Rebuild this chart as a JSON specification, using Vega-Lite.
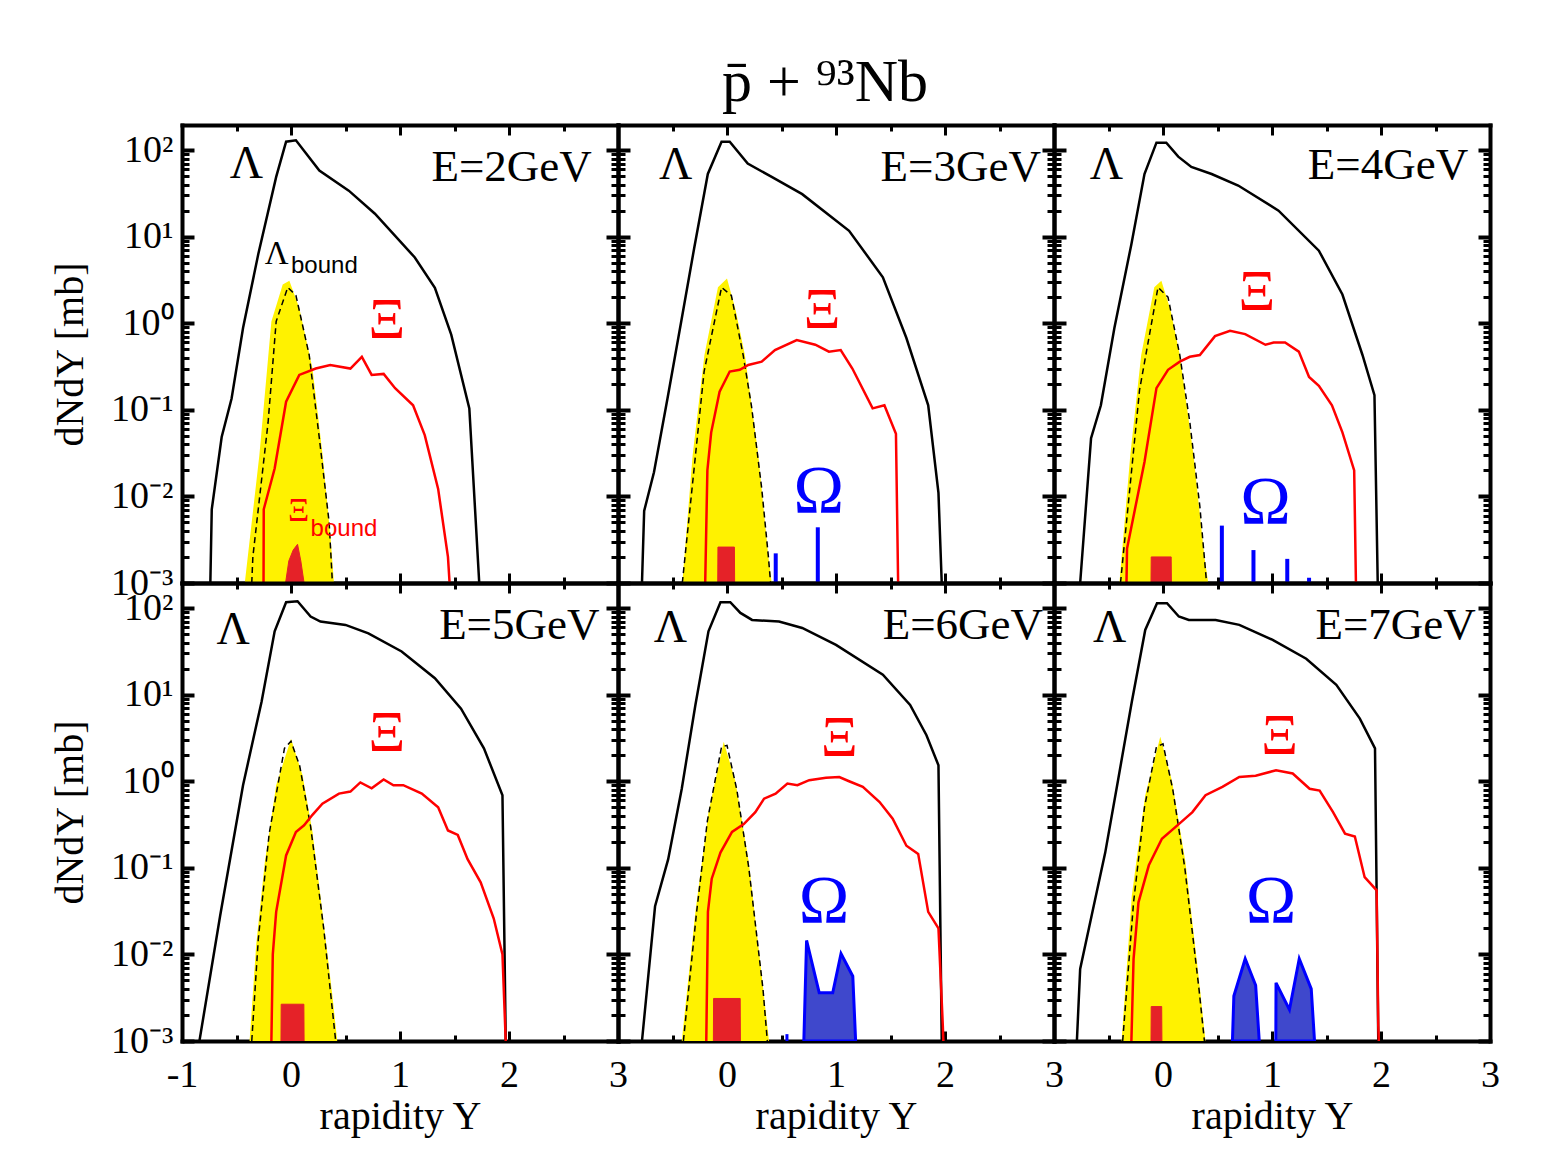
{
"$schema":"https://vega.github.io/schema/vega-lite/v6.json",
"background":"white",
"padding":{"left":50,"top":52,"right":60,"bottom":20},
"title":{"text":"p̄ + ⁹³Nb","fontSize":60,"font":"Liberation Serif","fontWeight":"normal","anchor":"middle","color":"#000","offset":10,"dx":50},
"config":{"view":{"stroke":null},"axis":{"grid":false,"domainColor":"#000","tickColor":"#000","labelColor":"#000","titleColor":"#000","labelFont":"Liberation Serif","titleFont":"Liberation Serif","labelFontSize":38,"titleFontSize":40,"titleFontWeight":"normal","labelFlush":false,"labelOverlap":false,"zindex":1,"domainWidth":4,"domainCap":"square"}},
"datasets":{
"d":[
{"E":2,"s":"L","x":-0.74,"y":0.001},{"E":2,"s":"L","x":-0.727,"y":0.0071},{"E":2,"s":"L","x":-0.636,"y":0.0486},{"E":2,"s":"L","x":-0.545,"y":0.135},{"E":2,"s":"L","x":-0.44,"y":0.88},{"E":2,"s":"L","x":-0.3,"y":6.3},{"E":2,"s":"L","x":-0.136,"y":49},{"E":2,"s":"L","x":-0.045,"y":125},{"E":2,"s":"L","x":0.045,"y":130},{"E":2,"s":"L","x":0.26,"y":58},{"E":2,"s":"L","x":0.53,"y":34},{"E":2,"s":"L","x":0.77,"y":18.4},{"E":2,"s":"L","x":1.136,"y":5.75},{"E":2,"s":"L","x":1.32,"y":2.57},{"E":2,"s":"L","x":1.47,"y":0.74},{"E":2,"s":"L","x":1.636,"y":0.104},{"E":2,"s":"L","x":1.727,"y":0.001},
{"E":2,"s":"X","x":-0.252,"y":0.001},{"E":2,"s":"X","x":-0.25,"y":0.0071},{"E":2,"s":"X","x":-0.15,"y":0.021},{"E":2,"s":"X","x":-0.045,"y":0.124},{"E":2,"s":"X","x":0.076,"y":0.253},{"E":2,"s":"X","x":0.227,"y":0.3},{"E":2,"s":"X","x":0.36,"y":0.33},{"E":2,"s":"X","x":0.545,"y":0.3},{"E":2,"s":"X","x":0.65,"y":0.41},{"E":2,"s":"X","x":0.74,"y":0.253},{"E":2,"s":"X","x":0.85,"y":0.26},{"E":2,"s":"X","x":0.955,"y":0.178},{"E":2,"s":"X","x":1.12,"y":0.113},{"E":2,"s":"X","x":1.227,"y":0.051},{"E":2,"s":"X","x":1.35,"y":0.0122},{"E":2,"s":"X","x":1.44,"y":0.002},{"E":2,"s":"X","x":1.455,"y":0.001},
{"E":2,"s":"Lb","x":-0.424,"y":0.001},{"E":2,"s":"Lb","x":-0.29,"y":0.03},{"E":2,"s":"Lb","x":-0.18,"y":1.05},{"E":2,"s":"Lb","x":-0.076,"y":2.8},{"E":2,"s":"Lb","x":-0.015,"y":3.1},{"E":2,"s":"Lb","x":0.076,"y":1.5},{"E":2,"s":"Lb","x":0.197,"y":0.3},{"E":2,"s":"Lb","x":0.29,"y":0.03},{"E":2,"s":"Lb","x":0.364,"y":0.0032},{"E":2,"s":"Lb","x":0.394,"y":0.001},
{"E":2,"s":"Lbd","x":-0.36,"y":0.001},{"E":2,"s":"Lbd","x":-0.35,"y":0.002},{"E":2,"s":"Lbd","x":-0.21,"y":0.072},{"E":2,"s":"Lbd","x":-0.136,"y":1.05},{"E":2,"s":"Lbd","x":-0.03,"y":2.6},{"E":2,"s":"Lbd","x":0.045,"y":2.1},{"E":2,"s":"Lbd","x":0.167,"y":0.43},{"E":2,"s":"Lbd","x":0.26,"y":0.047},{"E":2,"s":"Lbd","x":0.35,"y":0.005},{"E":2,"s":"Lbd","x":0.38,"y":0.001},
{"E":2,"s":"Xb","x":-0.05,"y":0.001},{"E":2,"s":"Xb","x":-0.02,"y":0.0018},{"E":2,"s":"Xb","x":0.02,"y":0.0024},{"E":2,"s":"Xb","x":0.06,"y":0.0028},{"E":2,"s":"Xb","x":0.09,"y":0.0018},{"E":2,"s":"Xb","x":0.12,"y":0.001},

{"E":3,"s":"L","x":-0.78,"y":0.001},{"E":3,"s":"L","x":-0.76,"y":0.0068},{"E":3,"s":"L","x":-0.67,"y":0.019},{"E":3,"s":"L","x":-0.546,"y":0.135},{"E":3,"s":"L","x":-0.42,"y":1.05},{"E":3,"s":"L","x":-0.3,"y":7.5},{"E":3,"s":"L","x":-0.176,"y":53},{"E":3,"s":"L","x":-0.05,"y":125},{"E":3,"s":"L","x":0.025,"y":125},{"E":3,"s":"L","x":0.19,"y":70},{"E":3,"s":"L","x":0.41,"y":49},{"E":3,"s":"L","x":0.69,"y":31},{"E":3,"s":"L","x":1.12,"y":11.7},{"E":3,"s":"L","x":1.43,"y":3.4},{"E":3,"s":"L","x":1.645,"y":0.68},{"E":3,"s":"L","x":1.846,"y":0.113},{"E":3,"s":"L","x":1.94,"y":0.011},{"E":3,"s":"L","x":1.97,"y":0.001},
{"E":3,"s":"X","x":-0.2,"y":0.001},{"E":3,"s":"X","x":-0.18,"y":0.02},{"E":3,"s":"X","x":-0.145,"y":0.055},{"E":3,"s":"X","x":-0.068,"y":0.162},{"E":3,"s":"X","x":0.025,"y":0.277},{"E":3,"s":"X","x":0.117,"y":0.29},{"E":3,"s":"X","x":0.195,"y":0.33},{"E":3,"s":"X","x":0.318,"y":0.36},{"E":3,"s":"X","x":0.44,"y":0.49},{"E":3,"s":"X","x":0.64,"y":0.64},{"E":3,"s":"X","x":0.81,"y":0.565},{"E":3,"s":"X","x":0.935,"y":0.47},{"E":3,"s":"X","x":1.043,"y":0.49},{"E":3,"s":"X","x":1.15,"y":0.3},{"E":3,"s":"X","x":1.336,"y":0.104},{"E":3,"s":"X","x":1.444,"y":0.113},{"E":3,"s":"X","x":1.55,"y":0.053},{"E":3,"s":"X","x":1.57,"y":0.001},
{"E":3,"s":"Lb","x":-0.41,"y":0.001},{"E":3,"s":"Lb","x":-0.315,"y":0.03},{"E":3,"s":"Lb","x":-0.207,"y":0.43},{"E":3,"s":"Lb","x":-0.083,"y":2.6},{"E":3,"s":"Lb","x":0.0,"y":3.3},{"E":3,"s":"Lb","x":0.08,"y":1.4},{"E":3,"s":"Lb","x":0.164,"y":0.43},{"E":3,"s":"Lb","x":0.287,"y":0.03},{"E":3,"s":"Lb","x":0.38,"y":0.002},{"E":3,"s":"Lb","x":0.41,"y":0.001},
{"E":3,"s":"Lbd","x":-0.41,"y":0.001},{"E":3,"s":"Lbd","x":-0.21,"y":0.277},{"E":3,"s":"Lbd","x":-0.05,"y":2.6},{"E":3,"s":"Lbd","x":0.04,"y":2.1},{"E":3,"s":"Lbd","x":0.148,"y":0.43},{"E":3,"s":"Lbd","x":0.225,"y":0.11},{"E":3,"s":"Lbd","x":0.318,"y":0.0125},{"E":3,"s":"Lbd","x":0.38,"y":0.002},{"E":3,"s":"Lbd","x":0.4,"y":0.001},
{"E":3,"s":"Xb","x":-0.085,"y":0.001},{"E":3,"s":"Xb","x":-0.083,"y":0.0026},{"E":3,"s":"Xb","x":0.068,"y":0.0026},{"E":3,"s":"Xb","x":0.07,"y":0.001},
{"E":3,"s":"Or","x":0.447,"y":0.0022},{"E":3,"s":"Or","x":0.833,"y":0.0044},

{"E":4,"s":"L","x":-0.76,"y":0.001},{"E":4,"s":"L","x":-0.66,"y":0.047},{"E":4,"s":"L","x":-0.57,"y":0.113},{"E":4,"s":"L","x":-0.446,"y":0.88},{"E":4,"s":"L","x":-0.29,"y":8.2},{"E":4,"s":"L","x":-0.17,"y":53},{"E":4,"s":"L","x":-0.06,"y":122},{"E":4,"s":"L","x":0.03,"y":122},{"E":4,"s":"L","x":0.14,"y":84},{"E":4,"s":"L","x":0.26,"y":64},{"E":4,"s":"L","x":0.446,"y":53},{"E":4,"s":"L","x":0.69,"y":39},{"E":4,"s":"L","x":1.06,"y":20},{"E":4,"s":"L","x":1.43,"y":6.9},{"E":4,"s":"L","x":1.646,"y":2.15},{"E":4,"s":"L","x":1.83,"y":0.43},{"E":4,"s":"L","x":1.94,"y":0.148},{"E":4,"s":"L","x":1.97,"y":0.001},
{"E":4,"s":"X","x":-0.335,"y":0.001},{"E":4,"s":"X","x":-0.33,"y":0.0025},{"E":4,"s":"X","x":-0.17,"y":0.025},{"E":4,"s":"X","x":-0.06,"y":0.178},{"E":4,"s":"X","x":0.046,"y":0.29},{"E":4,"s":"X","x":0.154,"y":0.36},{"E":4,"s":"X","x":0.246,"y":0.41},{"E":4,"s":"X","x":0.338,"y":0.43},{"E":4,"s":"X","x":0.477,"y":0.71},{"E":4,"s":"X","x":0.615,"y":0.82},{"E":4,"s":"X","x":0.754,"y":0.75},{"E":4,"s":"X","x":0.94,"y":0.565},{"E":4,"s":"X","x":1.015,"y":0.6},{"E":4,"s":"X","x":1.12,"y":0.6},{"E":4,"s":"X","x":1.246,"y":0.47},{"E":4,"s":"X","x":1.34,"y":0.24},{"E":4,"s":"X","x":1.43,"y":0.19},{"E":4,"s":"X","x":1.55,"y":0.113},{"E":4,"s":"X","x":1.646,"y":0.055},{"E":4,"s":"X","x":1.754,"y":0.02},{"E":4,"s":"X","x":1.77,"y":0.001},
{"E":4,"s":"Lb","x":-0.4,"y":0.001},{"E":4,"s":"Lb","x":-0.3,"y":0.03},{"E":4,"s":"Lb","x":-0.2,"y":0.43},{"E":4,"s":"Lb","x":-0.08,"y":2.6},{"E":4,"s":"Lb","x":-0.015,"y":3.1},{"E":4,"s":"Lb","x":0.07,"y":1.4},{"E":4,"s":"Lb","x":0.154,"y":0.43},{"E":4,"s":"Lb","x":0.28,"y":0.03},{"E":4,"s":"Lb","x":0.38,"y":0.002},{"E":4,"s":"Lb","x":0.415,"y":0.001},
{"E":4,"s":"Lbd","x":-0.39,"y":0.001},{"E":4,"s":"Lbd","x":-0.215,"y":0.17},{"E":4,"s":"Lbd","x":-0.046,"y":2.6},{"E":4,"s":"Lbd","x":0.046,"y":2.0},{"E":4,"s":"Lbd","x":0.154,"y":0.43},{"E":4,"s":"Lbd","x":0.246,"y":0.072},{"E":4,"s":"Lbd","x":0.338,"y":0.0077},{"E":4,"s":"Lbd","x":0.4,"y":0.001},
{"E":4,"s":"Xb","x":-0.11,"y":0.001},{"E":4,"s":"Xb","x":-0.108,"y":0.002},{"E":4,"s":"Xb","x":0.075,"y":0.002},{"E":4,"s":"Xb","x":0.077,"y":0.001},
{"E":4,"s":"Or","x":0.54,"y":0.0046},{"E":4,"s":"Or","x":0.83,"y":0.0024},{"E":4,"s":"Or","x":1.14,"y":0.0019},{"E":4,"s":"Or","x":1.34,"y":0.00115},

{"E":5,"s":"L","x":-0.84,"y":0.001},{"E":5,"s":"L","x":-0.65,"y":0.028},{"E":5,"s":"L","x":-0.44,"y":0.9},{"E":5,"s":"L","x":-0.27,"y":8.3},{"E":5,"s":"L","x":-0.15,"y":54},{"E":5,"s":"L","x":-0.045,"y":117},{"E":5,"s":"L","x":0.06,"y":120},{"E":5,"s":"L","x":0.18,"y":80},{"E":5,"s":"L","x":0.27,"y":70},{"E":5,"s":"L","x":0.5,"y":64},{"E":5,"s":"L","x":0.71,"y":51},{"E":5,"s":"L","x":1.015,"y":31.6},{"E":5,"s":"L","x":1.32,"y":15.5},{"E":5,"s":"L","x":1.56,"y":6.9},{"E":5,"s":"L","x":1.77,"y":2.4},{"E":5,"s":"L","x":1.94,"y":0.69},{"E":5,"s":"L","x":1.97,"y":0.001},
{"E":5,"s":"X","x":-0.18,"y":0.001},{"E":5,"s":"X","x":-0.167,"y":0.01},{"E":5,"s":"X","x":-0.136,"y":0.031},{"E":5,"s":"X","x":-0.045,"y":0.139},{"E":5,"s":"X","x":0.045,"y":0.26},{"E":5,"s":"X","x":0.12,"y":0.31},{"E":5,"s":"X","x":0.197,"y":0.41},{"E":5,"s":"X","x":0.288,"y":0.55},{"E":5,"s":"X","x":0.44,"y":0.72},{"E":5,"s":"X","x":0.545,"y":0.76},{"E":5,"s":"X","x":0.636,"y":0.97},{"E":5,"s":"X","x":0.74,"y":0.83},{"E":5,"s":"X","x":0.85,"y":1.05},{"E":5,"s":"X","x":0.94,"y":0.9},{"E":5,"s":"X","x":1.03,"y":0.9},{"E":5,"s":"X","x":1.2,"y":0.72},{"E":5,"s":"X","x":1.35,"y":0.5},{"E":5,"s":"X","x":1.44,"y":0.27},{"E":5,"s":"X","x":1.53,"y":0.24},{"E":5,"s":"X","x":1.62,"y":0.126},{"E":5,"s":"X","x":1.74,"y":0.068},{"E":5,"s":"X","x":1.86,"y":0.026},{"E":5,"s":"X","x":1.94,"y":0.01},{"E":5,"s":"X","x":1.97,"y":0.001},
{"E":5,"s":"Lb","x":-0.38,"y":0.001},{"E":5,"s":"Lb","x":-0.32,"y":0.0126},{"E":5,"s":"Lb","x":-0.24,"y":0.117},{"E":5,"s":"Lb","x":-0.136,"y":0.9},{"E":5,"s":"Lb","x":0.0,"y":3.1},{"E":5,"s":"Lb","x":0.106,"y":1.17},{"E":5,"s":"Lb","x":0.197,"y":0.26},{"E":5,"s":"Lb","x":0.288,"y":0.031},{"E":5,"s":"Lb","x":0.38,"y":0.0033},{"E":5,"s":"Lb","x":0.424,"y":0.001},
{"E":5,"s":"Lbd","x":-0.36,"y":0.001},{"E":5,"s":"Lbd","x":-0.3,"y":0.015},{"E":5,"s":"Lbd","x":-0.2,"y":0.25},{"E":5,"s":"Lbd","x":-0.06,"y":2.4},{"E":5,"s":"Lbd","x":0.0,"y":2.9},{"E":5,"s":"Lbd","x":0.08,"y":1.5},{"E":5,"s":"Lbd","x":0.18,"y":0.3},{"E":5,"s":"Lbd","x":0.3,"y":0.02},{"E":5,"s":"Lbd","x":0.41,"y":0.001},
{"E":5,"s":"Xb","x":-0.092,"y":0.001},{"E":5,"s":"Xb","x":-0.09,"y":0.00266},{"E":5,"s":"Xb","x":0.118,"y":0.00266},{"E":5,"s":"Xb","x":0.12,"y":0.001},

{"E":6,"s":"L","x":-0.78,"y":0.001},{"E":6,"s":"L","x":-0.66,"y":0.036},{"E":6,"s":"L","x":-0.54,"y":0.125},{"E":6,"s":"L","x":-0.415,"y":0.82},{"E":6,"s":"L","x":-0.29,"y":7.6},{"E":6,"s":"L","x":-0.17,"y":54},{"E":6,"s":"L","x":-0.06,"y":117},{"E":6,"s":"L","x":0.03,"y":117},{"E":6,"s":"L","x":0.123,"y":88},{"E":6,"s":"L","x":0.23,"y":73},{"E":6,"s":"L","x":0.477,"y":70},{"E":6,"s":"L","x":0.69,"y":59},{"E":6,"s":"L","x":1.0,"y":37.6},{"E":6,"s":"L","x":1.43,"y":17},{"E":6,"s":"L","x":1.68,"y":7.6},{"E":6,"s":"L","x":1.83,"y":3.4},{"E":6,"s":"L","x":1.94,"y":1.53},{"E":6,"s":"L","x":1.97,"y":0.001},
{"E":6,"s":"X","x":-0.19,"y":0.001},{"E":6,"s":"X","x":-0.175,"y":0.031},{"E":6,"s":"X","x":-0.14,"y":0.075},{"E":6,"s":"X","x":-0.06,"y":0.15},{"E":6,"s":"X","x":0.046,"y":0.26},{"E":6,"s":"X","x":0.154,"y":0.32},{"E":6,"s":"X","x":0.26,"y":0.44},{"E":6,"s":"X","x":0.34,"y":0.63},{"E":6,"s":"X","x":0.446,"y":0.72},{"E":6,"s":"X","x":0.554,"y":0.94},{"E":6,"s":"X","x":0.646,"y":0.9},{"E":6,"s":"X","x":0.754,"y":1.03},{"E":6,"s":"X","x":0.908,"y":1.1},{"E":6,"s":"X","x":1.03,"y":1.12},{"E":6,"s":"X","x":1.12,"y":1.0},{"E":6,"s":"X","x":1.246,"y":0.86},{"E":6,"s":"X","x":1.4,"y":0.575},{"E":6,"s":"X","x":1.52,"y":0.37},{"E":6,"s":"X","x":1.646,"y":0.18},{"E":6,"s":"X","x":1.754,"y":0.145},{"E":6,"s":"X","x":1.846,"y":0.031},{"E":6,"s":"X","x":1.94,"y":0.02},{"E":6,"s":"X","x":1.98,"y":0.0015},{"E":6,"s":"X","x":1.985,"y":0.001},
{"E":6,"s":"Lb","x":-0.415,"y":0.001},{"E":6,"s":"Lb","x":-0.29,"y":0.031},{"E":6,"s":"Lb","x":-0.17,"y":0.44},{"E":6,"s":"Lb","x":-0.03,"y":2.86},{"E":6,"s":"Lb","x":0.077,"y":1.0},{"E":6,"s":"Lb","x":0.2,"y":0.116},{"E":6,"s":"Lb","x":0.323,"y":0.0051},{"E":6,"s":"Lb","x":0.385,"y":0.001},
{"E":6,"s":"Lbd","x":-0.4,"y":0.001},{"E":6,"s":"Lbd","x":-0.28,"y":0.03},{"E":6,"s":"Lbd","x":-0.18,"y":0.35},{"E":6,"s":"Lbd","x":-0.05,"y":2.5},{"E":6,"s":"Lbd","x":0.0,"y":2.6},{"E":6,"s":"Lbd","x":0.09,"y":0.8},{"E":6,"s":"Lbd","x":0.2,"y":0.1},{"E":6,"s":"Lbd","x":0.33,"y":0.004},{"E":6,"s":"Lbd","x":0.37,"y":0.001},
{"E":6,"s":"Xb","x":-0.125,"y":0.001},{"E":6,"s":"Xb","x":-0.123,"y":0.0031},{"E":6,"s":"Xb","x":0.121,"y":0.0031},{"E":6,"s":"Xb","x":0.123,"y":0.001},
{"E":6,"s":"O1","x":0.705,"y":0.001},{"E":6,"s":"O1","x":0.73,"y":0.0145},{"E":6,"s":"O1","x":0.846,"y":0.0036},{"E":6,"s":"O1","x":0.97,"y":0.0036},{"E":6,"s":"O1","x":1.046,"y":0.0102},{"E":6,"s":"O1","x":1.154,"y":0.0056},{"E":6,"s":"O1","x":1.18,"y":0.001},
{"E":6,"s":"Or","x":0.55,"y":0.0012},

{"E":7,"s":"L","x":-0.79,"y":0.001},{"E":7,"s":"L","x":-0.76,"y":0.0068},{"E":7,"s":"L","x":-0.655,"y":0.028},{"E":7,"s":"L","x":-0.53,"y":0.15},{"E":7,"s":"L","x":-0.41,"y":1.07},{"E":7,"s":"L","x":-0.286,"y":8.3},{"E":7,"s":"L","x":-0.163,"y":56},{"E":7,"s":"L","x":-0.055,"y":114},{"E":7,"s":"L","x":0.037,"y":114},{"E":7,"s":"L","x":0.145,"y":80},{"E":7,"s":"L","x":0.237,"y":73},{"E":7,"s":"L","x":0.483,"y":73},{"E":7,"s":"L","x":0.7,"y":64},{"E":7,"s":"L","x":1.006,"y":43},{"E":7,"s":"L","x":1.314,"y":26},{"E":7,"s":"L","x":1.59,"y":13},{"E":7,"s":"L","x":1.806,"y":5.3},{"E":7,"s":"L","x":1.945,"y":2.4},{"E":7,"s":"L","x":1.975,"y":0.001},
{"E":7,"s":"X","x":-0.29,"y":0.001},{"E":7,"s":"X","x":-0.27,"y":0.0089},{"E":7,"s":"X","x":-0.225,"y":0.04},{"E":7,"s":"X","x":-0.13,"y":0.107},{"E":7,"s":"X","x":-0.01,"y":0.217},{"E":7,"s":"X","x":0.145,"y":0.32},{"E":7,"s":"X","x":0.27,"y":0.44},{"E":7,"s":"X","x":0.39,"y":0.69},{"E":7,"s":"X","x":0.545,"y":0.86},{"E":7,"s":"X","x":0.7,"y":1.12},{"E":7,"s":"X","x":0.85,"y":1.16},{"E":7,"s":"X","x":1.037,"y":1.34},{"E":7,"s":"X","x":1.19,"y":1.23},{"E":7,"s":"X","x":1.345,"y":0.82},{"E":7,"s":"X","x":1.437,"y":0.78},{"E":7,"s":"X","x":1.56,"y":0.44},{"E":7,"s":"X","x":1.67,"y":0.248},{"E":7,"s":"X","x":1.76,"y":0.23},{"E":7,"s":"X","x":1.85,"y":0.078},{"E":7,"s":"X","x":1.96,"y":0.055},{"E":7,"s":"X","x":1.975,"y":0.0015},{"E":7,"s":"X","x":1.98,"y":0.001},
{"E":7,"s":"Lb","x":-0.38,"y":0.001},{"E":7,"s":"Lb","x":-0.286,"y":0.048},{"E":7,"s":"Lb","x":-0.163,"y":0.69},{"E":7,"s":"Lb","x":-0.025,"y":3.26},{"E":7,"s":"Lb","x":0.083,"y":1.0},{"E":7,"s":"Lb","x":0.206,"y":0.116},{"E":7,"s":"Lb","x":0.33,"y":0.0051},{"E":7,"s":"Lb","x":0.39,"y":0.001},
{"E":7,"s":"Lbd","x":-0.37,"y":0.001},{"E":7,"s":"Lbd","x":-0.27,"y":0.04},{"E":7,"s":"Lbd","x":-0.17,"y":0.5},{"E":7,"s":"Lbd","x":-0.06,"y":2.5},{"E":7,"s":"Lbd","x":0.0,"y":2.7},{"E":7,"s":"Lbd","x":0.09,"y":0.8},{"E":7,"s":"Lbd","x":0.2,"y":0.1},{"E":7,"s":"Lbd","x":0.33,"y":0.004},{"E":7,"s":"Lbd","x":0.38,"y":0.001},
{"E":7,"s":"Xb","x":-0.11,"y":0.001},{"E":7,"s":"Xb","x":-0.108,"y":0.0025},{"E":7,"s":"Xb","x":-0.012,"y":0.0025},{"E":7,"s":"Xb","x":-0.01,"y":0.001},
{"E":7,"s":"O1","x":0.637,"y":0.001},{"E":7,"s":"O1","x":0.65,"y":0.0033},{"E":7,"s":"O1","x":0.754,"y":0.0089},{"E":7,"s":"O1","x":0.85,"y":0.0044},{"E":7,"s":"O1","x":0.883,"y":0.001},
{"E":7,"s":"O2","x":1.035,"y":0.001},{"E":7,"s":"O2","x":1.037,"y":0.0047},{"E":7,"s":"O2","x":1.16,"y":0.0023},{"E":7,"s":"O2","x":1.25,"y":0.0089},{"E":7,"s":"O2","x":1.36,"y":0.004},{"E":7,"s":"O2","x":1.39,"y":0.001}
],
"lab":[
{"E":2,"k":"sym","p":"L","t":"Λ","x":-0.41,"y":70},{"E":2,"k":"E","p":"L","t":"E=2GeV","x":2.76,"y":64},{"E":2,"k":"small","p":"L","t":"Λ","x":-0.13,"y":6.3},{"E":2,"k":"bound","p":"L","t":"bound","x":0.0,"y":4.6},{"E":2,"k":"sym","p":"X","t":"Ξ","x":0.88,"y":1.05},{"E":2,"k":"small","p":"X","t":"Ξ","x":0.07,"y":0.0068},{"E":2,"k":"bound","p":"X","t":"bound","x":0.18,"y":0.0042},
{"E":3,"k":"sym","p":"L","t":"Λ","x":-0.47,"y":67},{"E":3,"k":"E","p":"L","t":"E=3GeV","x":2.88,"y":64},{"E":3,"k":"sym","p":"X","t":"Ξ","x":0.873,"y":1.38},{"E":3,"k":"sym","p":"O","t":"Ω","x":0.843,"y":0.0112},
{"E":4,"k":"sym","p":"L","t":"Λ","x":-0.52,"y":67},{"E":4,"k":"E","p":"L","t":"E=4GeV","x":2.8,"y":67},{"E":4,"k":"sym","p":"X","t":"Ξ","x":0.86,"y":2.25},{"E":4,"k":"sym","p":"O","t":"Ω","x":0.94,"y":0.0085},
{"E":5,"k":"sym","p":"L","t":"Λ","x":-0.53,"y":56},{"E":5,"k":"E","p":"L","t":"E=5GeV","x":2.83,"y":64},{"E":5,"k":"sym","p":"X","t":"Ξ","x":0.88,"y":3.56},
{"E":6,"k":"sym","p":"L","t":"Λ","x":-0.52,"y":59},{"E":6,"k":"E","p":"L","t":"E=6GeV","x":2.9,"y":64},{"E":6,"k":"sym","p":"X","t":"Ξ","x":1.03,"y":3.1},{"E":6,"k":"sym","p":"O","t":"Ω","x":0.89,"y":0.04},
{"E":7,"k":"sym","p":"L","t":"Λ","x":-0.49,"y":59},{"E":7,"k":"E","p":"L","t":"E=7GeV","x":2.87,"y":64},{"E":7,"k":"sym","p":"X","t":"Ξ","x":1.07,"y":3.26},{"E":7,"k":"sym","p":"O","t":"Ω","x":0.99,"y":0.04}
]
},
"columns":3,
"spacing":0,
"bounds":"flush",
"concat":[
{"width":436,"height":458,"data":{"name":"d"},"transform":[{"filter":"datum.E == 2"}],"resolve":{"axis":{"x":"independent","y":"independent"}},
"layer":[
{"transform":[{"filter":"datum.s == 'Lb'"}],"mark":{"type":"area","color":"#fff200","clip":true},"encoding":{
"x":{"field":"x","type":"quantitative","scale":{"domain":[-1,3],"nice":false,"zero":false},"axis":{"orient":"bottom","values":[-1,0,1,2,3],"tickSize":-10,"tickWidth":3,"labels":false,"title":null}},
"y":{"field":"y","type":"quantitative","scale":{"type":"log","domain":[0.001,195],"nice":false},"axis":{"orient":"left","values":[0.001,0.01,0.1,1,10,100],"tickSize":-12,"tickWidth":4,"labelPadding":21,"labelExpr":"datum.value > 50 ? '10²' : datum.value > 5 ? '10¹' : datum.value > 0.5 ? '10⁰' : datum.value > 0.05 ? '10⁻¹' : datum.value > 0.005 ? '10⁻²' : '10⁻³'","title":"dNdY [mb]","titlePadding":20}},
"y2":{"datum":0.001}}},
{"transform":[{"filter":"datum.s == 'Lbd'"}],"mark":{"type":"line","color":"#000","strokeDash":[6,4],"strokeWidth":1.5,"clip":true},"encoding":{
"x":{"field":"x","type":"quantitative","scale":{"domain":[-1,3],"nice":false,"zero":false},"axis":{"orient":"bottom","values":[-0.5,0.5,1.5,2.5],"tickSize":-6,"tickWidth":3,"labels":false,"domain":false,"title":null}},
"y":{"field":"y","type":"quantitative","scale":{"type":"log","domain":[0.001,195],"nice":false},"axis":{"orient":"left","values":[0.002,0.003,0.004,0.005,0.006,0.007,0.008,0.009,0.02,0.03,0.04,0.05,0.06,0.07,0.08,0.09,0.2,0.3,0.4,0.5,0.6,0.7,0.8,0.9,2,3,4,5,6,7,8,9,20,30,40,50,60,70,80,90],"tickSize":-7,"tickWidth":3,"labels":false,"domain":false,"title":null}}}},
{"transform":[{"filter":"datum.s == 'L'"}],"mark":{"type":"line","color":"#000","strokeWidth":2.5,"clip":true},"encoding":{
"x":{"field":"x","type":"quantitative","scale":{"domain":[-1,3],"nice":false,"zero":false},"axis":{"orient":"top","values":[-1,0,1,2,3],"tickSize":-10,"tickWidth":3,"labels":false,"title":null}},
"y":{"field":"y","type":"quantitative","scale":{"type":"log","domain":[0.001,195],"nice":false},"axis":{"orient":"right","values":[0.001,0.01,0.1,1,10,100],"tickSize":-12,"tickWidth":4,"labels":false,"title":null}}}},
{"transform":[{"filter":"datum.s == 'X'"}],"mark":{"type":"line","color":"#ff0000","strokeWidth":2.5,"clip":true},"encoding":{
"x":{"field":"x","type":"quantitative","scale":{"domain":[-1,3],"nice":false,"zero":false},"axis":{"orient":"top","values":[-0.5,0.5,1.5,2.5],"tickSize":-6,"tickWidth":3,"labels":false,"domain":false,"title":null}},
"y":{"field":"y","type":"quantitative","scale":{"type":"log","domain":[0.001,195],"nice":false},"axis":{"orient":"right","values":[0.002,0.003,0.004,0.005,0.006,0.007,0.008,0.009,0.02,0.03,0.04,0.05,0.06,0.07,0.08,0.09,0.2,0.3,0.4,0.5,0.6,0.7,0.8,0.9,2,3,4,5,6,7,8,9,20,30,40,50,60,70,80,90],"tickSize":-7,"tickWidth":3,"labels":false,"domain":false,"title":null}}}},
{"transform":[{"filter":"datum.s == 'Xb'"}],"mark":{"type":"area","fill":"#e52228","stroke":"#e52228","strokeWidth":1,"clip":true},"encoding":{
"x":{"field":"x","type":"quantitative","scale":{"domain":[-1,3],"nice":false,"zero":false},"axis":null},
"y":{"field":"y","type":"quantitative","scale":{"type":"log","domain":[0.001,195],"nice":false},"axis":null},"y2":{"datum":0.001}}},
{"data":{"name":"lab"},"transform":[{"filter":"datum.E == 2 && datum.k == 'sym'"}],"mark":{"type":"text","font":"Liberation Serif","baseline":"middle","align":"center"},"encoding":{
"x":{"field":"x","type":"quantitative","scale":{"domain":[-1,3],"nice":false,"zero":false},"axis":null},
"y":{"field":"y","type":"quantitative","scale":{"type":"log","domain":[0.001,195],"nice":false},"axis":null},"text":{"field":"t"},
"size":{"field":"p","type":"ordinal","scale":{"domain":["L","X","O"],"range":[46,68,56]},"legend":null},
"color":{"field":"p","type":"nominal","scale":{"domain":["L","X","O"],"range":["#000000","#ff0000","#0000ff"]},"legend":null}}},
{"data":{"name":"lab"},"transform":[{"filter":"datum.E == 2 && datum.k == 'E'"}],"mark":{"type":"text","font":"Liberation Serif","fontSize":45,"baseline":"middle","align":"right","color":"#000"},"encoding":{
"x":{"field":"x","type":"quantitative","scale":{"domain":[-1,3],"nice":false,"zero":false},"axis":null},
"y":{"field":"y","type":"quantitative","scale":{"type":"log","domain":[0.001,195],"nice":false},"axis":null},"text":{"field":"t"}}},
{"data":{"name":"lab"},"transform":[{"filter":"datum.E == 2 && datum.k == 'small'"}],"mark":{"type":"text","font":"Liberation Serif","fontSize":33,"baseline":"middle","align":"center"},"encoding":{
"x":{"field":"x","type":"quantitative","scale":{"domain":[-1,3],"nice":false,"zero":false},"axis":null},
"y":{"field":"y","type":"quantitative","scale":{"type":"log","domain":[0.001,195],"nice":false},"axis":null},"text":{"field":"t"},
"color":{"field":"p","type":"nominal","scale":{"domain":["L","X","O"],"range":["#000000","#ff0000","#0000ff"]},"legend":null}}},
{"data":{"name":"lab"},"transform":[{"filter":"datum.E == 2 && datum.k == 'bound'"}],"mark":{"type":"text","font":"Liberation Sans","fontSize":24,"baseline":"middle","align":"left"},"encoding":{
"x":{"field":"x","type":"quantitative","scale":{"domain":[-1,3],"nice":false,"zero":false},"axis":null},
"y":{"field":"y","type":"quantitative","scale":{"type":"log","domain":[0.001,195],"nice":false},"axis":null},"text":{"field":"t"},
"color":{"field":"p","type":"nominal","scale":{"domain":["L","X","O"],"range":["#000000","#ff0000","#0000ff"]},"legend":null}}}
]},

{"width":436,"height":458,"data":{"name":"d"},"transform":[{"filter":"datum.E == 3"}],"resolve":{"axis":{"x":"independent","y":"independent"}},
"layer":[
{"transform":[{"filter":"datum.s == 'Lb'"}],"mark":{"type":"area","color":"#fff200","clip":true},"encoding":{
"x":{"field":"x","type":"quantitative","scale":{"domain":[-1,3],"nice":false,"zero":false},"axis":{"orient":"bottom","values":[-1,0,1,2,3],"tickSize":-10,"tickWidth":3,"labels":false,"title":null}},
"y":{"field":"y","type":"quantitative","scale":{"type":"log","domain":[0.001,195],"nice":false},"axis":{"orient":"left","values":[0.001,0.01,0.1,1,10,100],"tickSize":-12,"tickWidth":4,"labels":false,"title":null}},
"y2":{"datum":0.001}}},
{"transform":[{"filter":"datum.s == 'Lbd'"}],"mark":{"type":"line","color":"#000","strokeDash":[6,4],"strokeWidth":1.5,"clip":true},"encoding":{
"x":{"field":"x","type":"quantitative","scale":{"domain":[-1,3],"nice":false,"zero":false},"axis":{"orient":"bottom","values":[-0.5,0.5,1.5,2.5],"tickSize":-6,"tickWidth":3,"labels":false,"domain":false,"title":null}},
"y":{"field":"y","type":"quantitative","scale":{"type":"log","domain":[0.001,195],"nice":false},"axis":{"orient":"left","values":[0.002,0.003,0.004,0.005,0.006,0.007,0.008,0.009,0.02,0.03,0.04,0.05,0.06,0.07,0.08,0.09,0.2,0.3,0.4,0.5,0.6,0.7,0.8,0.9,2,3,4,5,6,7,8,9,20,30,40,50,60,70,80,90],"tickSize":-7,"tickWidth":3,"labels":false,"domain":false,"title":null}}}},
{"transform":[{"filter":"datum.s == 'L'"}],"mark":{"type":"line","color":"#000","strokeWidth":2.5,"clip":true},"encoding":{
"x":{"field":"x","type":"quantitative","scale":{"domain":[-1,3],"nice":false,"zero":false},"axis":{"orient":"top","values":[-1,0,1,2,3],"tickSize":-10,"tickWidth":3,"labels":false,"title":null}},
"y":{"field":"y","type":"quantitative","scale":{"type":"log","domain":[0.001,195],"nice":false},"axis":{"orient":"right","values":[0.001,0.01,0.1,1,10,100],"tickSize":-12,"tickWidth":4,"labels":false,"title":null}}}},
{"transform":[{"filter":"datum.s == 'X'"}],"mark":{"type":"line","color":"#ff0000","strokeWidth":2.5,"clip":true},"encoding":{
"x":{"field":"x","type":"quantitative","scale":{"domain":[-1,3],"nice":false,"zero":false},"axis":{"orient":"top","values":[-0.5,0.5,1.5,2.5],"tickSize":-6,"tickWidth":3,"labels":false,"domain":false,"title":null}},
"y":{"field":"y","type":"quantitative","scale":{"type":"log","domain":[0.001,195],"nice":false},"axis":{"orient":"right","values":[0.002,0.003,0.004,0.005,0.006,0.007,0.008,0.009,0.02,0.03,0.04,0.05,0.06,0.07,0.08,0.09,0.2,0.3,0.4,0.5,0.6,0.7,0.8,0.9,2,3,4,5,6,7,8,9,20,30,40,50,60,70,80,90],"tickSize":-7,"tickWidth":3,"labels":false,"domain":false,"title":null}}}},
{"transform":[{"filter":"datum.s == 'Xb'"}],"mark":{"type":"area","fill":"#e52228","stroke":"#e52228","strokeWidth":1,"clip":true},"encoding":{
"x":{"field":"x","type":"quantitative","scale":{"domain":[-1,3],"nice":false,"zero":false},"axis":null},
"y":{"field":"y","type":"quantitative","scale":{"type":"log","domain":[0.001,195],"nice":false},"axis":null},"y2":{"datum":0.001}}},
{"transform":[{"filter":"datum.s == 'Or'"}],"mark":{"type":"rule","color":"#0000ff","strokeWidth":4,"clip":true},"encoding":{
"x":{"field":"x","type":"quantitative","scale":{"domain":[-1,3],"nice":false,"zero":false},"axis":null},
"y":{"field":"y","type":"quantitative","scale":{"type":"log","domain":[0.001,195],"nice":false},"axis":null},"y2":{"datum":0.001}}},
{"data":{"name":"lab"},"transform":[{"filter":"datum.E == 3 && datum.k == 'sym'"}],"mark":{"type":"text","font":"Liberation Serif","baseline":"middle","align":"center"},"encoding":{
"x":{"field":"x","type":"quantitative","scale":{"domain":[-1,3],"nice":false,"zero":false},"axis":null},
"y":{"field":"y","type":"quantitative","scale":{"type":"log","domain":[0.001,195],"nice":false},"axis":null},"text":{"field":"t"},
"size":{"field":"p","type":"ordinal","scale":{"domain":["L","X","O"],"range":[46,68,56]},"legend":null},
"color":{"field":"p","type":"nominal","scale":{"domain":["L","X","O"],"range":["#000000","#ff0000","#0000ff"]},"legend":null}}},
{"data":{"name":"lab"},"transform":[{"filter":"datum.E == 3 && datum.k == 'E'"}],"mark":{"type":"text","font":"Liberation Serif","fontSize":45,"baseline":"middle","align":"right","color":"#000"},"encoding":{
"x":{"field":"x","type":"quantitative","scale":{"domain":[-1,3],"nice":false,"zero":false},"axis":null},
"y":{"field":"y","type":"quantitative","scale":{"type":"log","domain":[0.001,195],"nice":false},"axis":null},"text":{"field":"t"}}}
]},

{"width":436,"height":458,"data":{"name":"d"},"transform":[{"filter":"datum.E == 4"}],"resolve":{"axis":{"x":"independent","y":"independent"}},
"layer":[
{"transform":[{"filter":"datum.s == 'Lb'"}],"mark":{"type":"area","color":"#fff200","clip":true},"encoding":{
"x":{"field":"x","type":"quantitative","scale":{"domain":[-1,3],"nice":false,"zero":false},"axis":{"orient":"bottom","values":[-1,0,1,2,3],"tickSize":-10,"tickWidth":3,"labels":false,"title":null}},
"y":{"field":"y","type":"quantitative","scale":{"type":"log","domain":[0.001,195],"nice":false},"axis":{"orient":"left","values":[0.001,0.01,0.1,1,10,100],"tickSize":-12,"tickWidth":4,"labels":false,"title":null}},
"y2":{"datum":0.001}}},
{"transform":[{"filter":"datum.s == 'Lbd'"}],"mark":{"type":"line","color":"#000","strokeDash":[6,4],"strokeWidth":1.5,"clip":true},"encoding":{
"x":{"field":"x","type":"quantitative","scale":{"domain":[-1,3],"nice":false,"zero":false},"axis":{"orient":"bottom","values":[-0.5,0.5,1.5,2.5],"tickSize":-6,"tickWidth":3,"labels":false,"domain":false,"title":null}},
"y":{"field":"y","type":"quantitative","scale":{"type":"log","domain":[0.001,195],"nice":false},"axis":{"orient":"left","values":[0.002,0.003,0.004,0.005,0.006,0.007,0.008,0.009,0.02,0.03,0.04,0.05,0.06,0.07,0.08,0.09,0.2,0.3,0.4,0.5,0.6,0.7,0.8,0.9,2,3,4,5,6,7,8,9,20,30,40,50,60,70,80,90],"tickSize":-7,"tickWidth":3,"labels":false,"domain":false,"title":null}}}},
{"transform":[{"filter":"datum.s == 'L'"}],"mark":{"type":"line","color":"#000","strokeWidth":2.5,"clip":true},"encoding":{
"x":{"field":"x","type":"quantitative","scale":{"domain":[-1,3],"nice":false,"zero":false},"axis":{"orient":"top","values":[-1,0,1,2,3],"tickSize":-10,"tickWidth":3,"labels":false,"title":null}},
"y":{"field":"y","type":"quantitative","scale":{"type":"log","domain":[0.001,195],"nice":false},"axis":{"orient":"right","values":[0.001,0.01,0.1,1,10,100],"tickSize":-12,"tickWidth":4,"labels":false,"title":null}}}},
{"transform":[{"filter":"datum.s == 'X'"}],"mark":{"type":"line","color":"#ff0000","strokeWidth":2.5,"clip":true},"encoding":{
"x":{"field":"x","type":"quantitative","scale":{"domain":[-1,3],"nice":false,"zero":false},"axis":{"orient":"top","values":[-0.5,0.5,1.5,2.5],"tickSize":-6,"tickWidth":3,"labels":false,"domain":false,"title":null}},
"y":{"field":"y","type":"quantitative","scale":{"type":"log","domain":[0.001,195],"nice":false},"axis":{"orient":"right","values":[0.002,0.003,0.004,0.005,0.006,0.007,0.008,0.009,0.02,0.03,0.04,0.05,0.06,0.07,0.08,0.09,0.2,0.3,0.4,0.5,0.6,0.7,0.8,0.9,2,3,4,5,6,7,8,9,20,30,40,50,60,70,80,90],"tickSize":-7,"tickWidth":3,"labels":false,"domain":false,"title":null}}}},
{"transform":[{"filter":"datum.s == 'Xb'"}],"mark":{"type":"area","fill":"#e52228","stroke":"#e52228","strokeWidth":1,"clip":true},"encoding":{
"x":{"field":"x","type":"quantitative","scale":{"domain":[-1,3],"nice":false,"zero":false},"axis":null},
"y":{"field":"y","type":"quantitative","scale":{"type":"log","domain":[0.001,195],"nice":false},"axis":null},"y2":{"datum":0.001}}},
{"transform":[{"filter":"datum.s == 'Or'"}],"mark":{"type":"rule","color":"#0000ff","strokeWidth":4,"clip":true},"encoding":{
"x":{"field":"x","type":"quantitative","scale":{"domain":[-1,3],"nice":false,"zero":false},"axis":null},
"y":{"field":"y","type":"quantitative","scale":{"type":"log","domain":[0.001,195],"nice":false},"axis":null},"y2":{"datum":0.001}}},
{"data":{"name":"lab"},"transform":[{"filter":"datum.E == 4 && datum.k == 'sym'"}],"mark":{"type":"text","font":"Liberation Serif","baseline":"middle","align":"center"},"encoding":{
"x":{"field":"x","type":"quantitative","scale":{"domain":[-1,3],"nice":false,"zero":false},"axis":null},
"y":{"field":"y","type":"quantitative","scale":{"type":"log","domain":[0.001,195],"nice":false},"axis":null},"text":{"field":"t"},
"size":{"field":"p","type":"ordinal","scale":{"domain":["L","X","O"],"range":[46,68,56]},"legend":null},
"color":{"field":"p","type":"nominal","scale":{"domain":["L","X","O"],"range":["#000000","#ff0000","#0000ff"]},"legend":null}}},
{"data":{"name":"lab"},"transform":[{"filter":"datum.E == 4 && datum.k == 'E'"}],"mark":{"type":"text","font":"Liberation Serif","fontSize":45,"baseline":"middle","align":"right","color":"#000"},"encoding":{
"x":{"field":"x","type":"quantitative","scale":{"domain":[-1,3],"nice":false,"zero":false},"axis":null},
"y":{"field":"y","type":"quantitative","scale":{"type":"log","domain":[0.001,195],"nice":false},"axis":null},"text":{"field":"t"}}}
]},

{"width":436,"height":458,"data":{"name":"d"},"transform":[{"filter":"datum.E == 5"}],"resolve":{"axis":{"x":"independent","y":"independent"}},
"layer":[
{"transform":[{"filter":"datum.s == 'Lb'"}],"mark":{"type":"area","color":"#fff200","clip":true},"encoding":{
"x":{"field":"x","type":"quantitative","scale":{"domain":[-1,3],"nice":false,"zero":false},"axis":{"orient":"bottom","values":[-1,0,1,2,3],"tickSize":-10,"tickWidth":3,"labelPadding":25,"labelExpr":"datum.value == -1 ? '-1' : datum.label","title":"rapidity Y","titlePadding":2}},
"y":{"field":"y","type":"quantitative","scale":{"type":"log","domain":[0.001,195],"nice":false},"axis":{"orient":"left","values":[0.001,0.01,0.1,1,10,100],"tickSize":-12,"tickWidth":4,"labelPadding":21,"labelExpr":"datum.value > 50 ? '10²' : datum.value > 5 ? '10¹' : datum.value > 0.5 ? '10⁰' : datum.value > 0.05 ? '10⁻¹' : datum.value > 0.005 ? '10⁻²' : '10⁻³'","title":"dNdY [mb]","titlePadding":20}},
"y2":{"datum":0.001}}},
{"transform":[{"filter":"datum.s == 'Lbd'"}],"mark":{"type":"line","color":"#000","strokeDash":[6,4],"strokeWidth":1.5,"clip":true},"encoding":{
"x":{"field":"x","type":"quantitative","scale":{"domain":[-1,3],"nice":false,"zero":false},"axis":{"orient":"bottom","values":[-0.5,0.5,1.5,2.5],"tickSize":-6,"tickWidth":3,"labels":false,"domain":false,"title":null}},
"y":{"field":"y","type":"quantitative","scale":{"type":"log","domain":[0.001,195],"nice":false},"axis":{"orient":"left","values":[0.002,0.003,0.004,0.005,0.006,0.007,0.008,0.009,0.02,0.03,0.04,0.05,0.06,0.07,0.08,0.09,0.2,0.3,0.4,0.5,0.6,0.7,0.8,0.9,2,3,4,5,6,7,8,9,20,30,40,50,60,70,80,90],"tickSize":-7,"tickWidth":3,"labels":false,"domain":false,"title":null}}}},
{"transform":[{"filter":"datum.s == 'L'"}],"mark":{"type":"line","color":"#000","strokeWidth":2.5,"clip":true},"encoding":{
"x":{"field":"x","type":"quantitative","scale":{"domain":[-1,3],"nice":false,"zero":false},"axis":{"orient":"top","values":[-1,0,1,2,3],"tickSize":-10,"tickWidth":3,"labels":false,"title":null}},
"y":{"field":"y","type":"quantitative","scale":{"type":"log","domain":[0.001,195],"nice":false},"axis":{"orient":"right","values":[0.001,0.01,0.1,1,10,100],"tickSize":-12,"tickWidth":4,"labels":false,"title":null}}}},
{"transform":[{"filter":"datum.s == 'X'"}],"mark":{"type":"line","color":"#ff0000","strokeWidth":2.5,"clip":true},"encoding":{
"x":{"field":"x","type":"quantitative","scale":{"domain":[-1,3],"nice":false,"zero":false},"axis":{"orient":"top","values":[-0.5,0.5,1.5,2.5],"tickSize":-6,"tickWidth":3,"labels":false,"domain":false,"title":null}},
"y":{"field":"y","type":"quantitative","scale":{"type":"log","domain":[0.001,195],"nice":false},"axis":{"orient":"right","values":[0.002,0.003,0.004,0.005,0.006,0.007,0.008,0.009,0.02,0.03,0.04,0.05,0.06,0.07,0.08,0.09,0.2,0.3,0.4,0.5,0.6,0.7,0.8,0.9,2,3,4,5,6,7,8,9,20,30,40,50,60,70,80,90],"tickSize":-7,"tickWidth":3,"labels":false,"domain":false,"title":null}}}},
{"transform":[{"filter":"datum.s == 'Xb'"}],"mark":{"type":"area","fill":"#e52228","stroke":"#e52228","strokeWidth":1,"clip":true},"encoding":{
"x":{"field":"x","type":"quantitative","scale":{"domain":[-1,3],"nice":false,"zero":false},"axis":null},
"y":{"field":"y","type":"quantitative","scale":{"type":"log","domain":[0.001,195],"nice":false},"axis":null},"y2":{"datum":0.001}}},
{"data":{"name":"lab"},"transform":[{"filter":"datum.E == 5 && datum.k == 'sym'"}],"mark":{"type":"text","font":"Liberation Serif","baseline":"middle","align":"center"},"encoding":{
"x":{"field":"x","type":"quantitative","scale":{"domain":[-1,3],"nice":false,"zero":false},"axis":null},
"y":{"field":"y","type":"quantitative","scale":{"type":"log","domain":[0.001,195],"nice":false},"axis":null},"text":{"field":"t"},
"size":{"field":"p","type":"ordinal","scale":{"domain":["L","X","O"],"range":[46,68,56]},"legend":null},
"color":{"field":"p","type":"nominal","scale":{"domain":["L","X","O"],"range":["#000000","#ff0000","#0000ff"]},"legend":null}}},
{"data":{"name":"lab"},"transform":[{"filter":"datum.E == 5 && datum.k == 'E'"}],"mark":{"type":"text","font":"Liberation Serif","fontSize":45,"baseline":"middle","align":"right","color":"#000"},"encoding":{
"x":{"field":"x","type":"quantitative","scale":{"domain":[-1,3],"nice":false,"zero":false},"axis":null},
"y":{"field":"y","type":"quantitative","scale":{"type":"log","domain":[0.001,195],"nice":false},"axis":null},"text":{"field":"t"}}}
]},

{"width":436,"height":458,"data":{"name":"d"},"transform":[{"filter":"datum.E == 6"}],"resolve":{"axis":{"x":"independent","y":"independent"}},
"layer":[
{"transform":[{"filter":"datum.s == 'Lb'"}],"mark":{"type":"area","color":"#fff200","clip":true},"encoding":{
"x":{"field":"x","type":"quantitative","scale":{"domain":[-1,3],"nice":false,"zero":false},"axis":{"orient":"bottom","values":[-1,0,1,2,3],"tickSize":-10,"tickWidth":3,"labelPadding":25,"labelExpr":"datum.value == -1 ? '' : datum.label","title":"rapidity Y","titlePadding":2}},
"y":{"field":"y","type":"quantitative","scale":{"type":"log","domain":[0.001,195],"nice":false},"axis":{"orient":"left","values":[0.001,0.01,0.1,1,10,100],"tickSize":-12,"tickWidth":4,"labels":false,"title":null}},
"y2":{"datum":0.001}}},
{"transform":[{"filter":"datum.s == 'Lbd'"}],"mark":{"type":"line","color":"#000","strokeDash":[6,4],"strokeWidth":1.5,"clip":true},"encoding":{
"x":{"field":"x","type":"quantitative","scale":{"domain":[-1,3],"nice":false,"zero":false},"axis":{"orient":"bottom","values":[-0.5,0.5,1.5,2.5],"tickSize":-6,"tickWidth":3,"labels":false,"domain":false,"title":null}},
"y":{"field":"y","type":"quantitative","scale":{"type":"log","domain":[0.001,195],"nice":false},"axis":{"orient":"left","values":[0.002,0.003,0.004,0.005,0.006,0.007,0.008,0.009,0.02,0.03,0.04,0.05,0.06,0.07,0.08,0.09,0.2,0.3,0.4,0.5,0.6,0.7,0.8,0.9,2,3,4,5,6,7,8,9,20,30,40,50,60,70,80,90],"tickSize":-7,"tickWidth":3,"labels":false,"domain":false,"title":null}}}},
{"transform":[{"filter":"datum.s == 'L'"}],"mark":{"type":"line","color":"#000","strokeWidth":2.5,"clip":true},"encoding":{
"x":{"field":"x","type":"quantitative","scale":{"domain":[-1,3],"nice":false,"zero":false},"axis":{"orient":"top","values":[-1,0,1,2,3],"tickSize":-10,"tickWidth":3,"labels":false,"title":null}},
"y":{"field":"y","type":"quantitative","scale":{"type":"log","domain":[0.001,195],"nice":false},"axis":{"orient":"right","values":[0.001,0.01,0.1,1,10,100],"tickSize":-12,"tickWidth":4,"labels":false,"title":null}}}},
{"transform":[{"filter":"datum.s == 'X'"}],"mark":{"type":"line","color":"#ff0000","strokeWidth":2.5,"clip":true},"encoding":{
"x":{"field":"x","type":"quantitative","scale":{"domain":[-1,3],"nice":false,"zero":false},"axis":{"orient":"top","values":[-0.5,0.5,1.5,2.5],"tickSize":-6,"tickWidth":3,"labels":false,"domain":false,"title":null}},
"y":{"field":"y","type":"quantitative","scale":{"type":"log","domain":[0.001,195],"nice":false},"axis":{"orient":"right","values":[0.002,0.003,0.004,0.005,0.006,0.007,0.008,0.009,0.02,0.03,0.04,0.05,0.06,0.07,0.08,0.09,0.2,0.3,0.4,0.5,0.6,0.7,0.8,0.9,2,3,4,5,6,7,8,9,20,30,40,50,60,70,80,90],"tickSize":-7,"tickWidth":3,"labels":false,"domain":false,"title":null}}}},
{"transform":[{"filter":"datum.s == 'Xb'"}],"mark":{"type":"area","fill":"#e52228","stroke":"#e52228","strokeWidth":1,"clip":true},"encoding":{
"x":{"field":"x","type":"quantitative","scale":{"domain":[-1,3],"nice":false,"zero":false},"axis":null},
"y":{"field":"y","type":"quantitative","scale":{"type":"log","domain":[0.001,195],"nice":false},"axis":null},"y2":{"datum":0.001}}},
{"transform":[{"filter":"datum.s == 'O1' || datum.s == 'O2'"}],"mark":{"type":"area","fill":"#3f48cc","stroke":"#0000ff","strokeWidth":3,"clip":true},"encoding":{
"x":{"field":"x","type":"quantitative","scale":{"domain":[-1,3],"nice":false,"zero":false},"axis":null},
"y":{"field":"y","type":"quantitative","scale":{"type":"log","domain":[0.001,195],"nice":false},"axis":null},"y2":{"datum":0.001},"detail":{"field":"s"}}},
{"transform":[{"filter":"datum.s == 'Or'"}],"mark":{"type":"rule","color":"#0000ff","strokeWidth":3,"clip":true},"encoding":{
"x":{"field":"x","type":"quantitative","scale":{"domain":[-1,3],"nice":false,"zero":false},"axis":null},
"y":{"field":"y","type":"quantitative","scale":{"type":"log","domain":[0.001,195],"nice":false},"axis":null},"y2":{"datum":0.001}}},
{"data":{"name":"lab"},"transform":[{"filter":"datum.E == 6 && datum.k == 'sym'"}],"mark":{"type":"text","font":"Liberation Serif","baseline":"middle","align":"center"},"encoding":{
"x":{"field":"x","type":"quantitative","scale":{"domain":[-1,3],"nice":false,"zero":false},"axis":null},
"y":{"field":"y","type":"quantitative","scale":{"type":"log","domain":[0.001,195],"nice":false},"axis":null},"text":{"field":"t"},
"size":{"field":"p","type":"ordinal","scale":{"domain":["L","X","O"],"range":[46,68,56]},"legend":null},
"color":{"field":"p","type":"nominal","scale":{"domain":["L","X","O"],"range":["#000000","#ff0000","#0000ff"]},"legend":null}}},
{"data":{"name":"lab"},"transform":[{"filter":"datum.E == 6 && datum.k == 'E'"}],"mark":{"type":"text","font":"Liberation Serif","fontSize":45,"baseline":"middle","align":"right","color":"#000"},"encoding":{
"x":{"field":"x","type":"quantitative","scale":{"domain":[-1,3],"nice":false,"zero":false},"axis":null},
"y":{"field":"y","type":"quantitative","scale":{"type":"log","domain":[0.001,195],"nice":false},"axis":null},"text":{"field":"t"}}}
]},

{"width":436,"height":458,"data":{"name":"d"},"transform":[{"filter":"datum.E == 7"}],"resolve":{"axis":{"x":"independent","y":"independent"}},
"layer":[
{"transform":[{"filter":"datum.s == 'Lb'"}],"mark":{"type":"area","color":"#fff200","clip":true},"encoding":{
"x":{"field":"x","type":"quantitative","scale":{"domain":[-1,3],"nice":false,"zero":false},"axis":{"orient":"bottom","values":[-1,0,1,2,3],"tickSize":-10,"tickWidth":3,"labelPadding":25,"labelExpr":"datum.value == -1 ? '' : datum.label","title":"rapidity Y","titlePadding":2}},
"y":{"field":"y","type":"quantitative","scale":{"type":"log","domain":[0.001,195],"nice":false},"axis":{"orient":"left","values":[0.001,0.01,0.1,1,10,100],"tickSize":-12,"tickWidth":4,"labels":false,"title":null}},
"y2":{"datum":0.001}}},
{"transform":[{"filter":"datum.s == 'Lbd'"}],"mark":{"type":"line","color":"#000","strokeDash":[6,4],"strokeWidth":1.5,"clip":true},"encoding":{
"x":{"field":"x","type":"quantitative","scale":{"domain":[-1,3],"nice":false,"zero":false},"axis":{"orient":"bottom","values":[-0.5,0.5,1.5,2.5],"tickSize":-6,"tickWidth":3,"labels":false,"domain":false,"title":null}},
"y":{"field":"y","type":"quantitative","scale":{"type":"log","domain":[0.001,195],"nice":false},"axis":{"orient":"left","values":[0.002,0.003,0.004,0.005,0.006,0.007,0.008,0.009,0.02,0.03,0.04,0.05,0.06,0.07,0.08,0.09,0.2,0.3,0.4,0.5,0.6,0.7,0.8,0.9,2,3,4,5,6,7,8,9,20,30,40,50,60,70,80,90],"tickSize":-7,"tickWidth":3,"labels":false,"domain":false,"title":null}}}},
{"transform":[{"filter":"datum.s == 'L'"}],"mark":{"type":"line","color":"#000","strokeWidth":2.5,"clip":true},"encoding":{
"x":{"field":"x","type":"quantitative","scale":{"domain":[-1,3],"nice":false,"zero":false},"axis":{"orient":"top","values":[-1,0,1,2,3],"tickSize":-10,"tickWidth":3,"labels":false,"title":null}},
"y":{"field":"y","type":"quantitative","scale":{"type":"log","domain":[0.001,195],"nice":false},"axis":{"orient":"right","values":[0.001,0.01,0.1,1,10,100],"tickSize":-12,"tickWidth":4,"labels":false,"title":null}}}},
{"transform":[{"filter":"datum.s == 'X'"}],"mark":{"type":"line","color":"#ff0000","strokeWidth":2.5,"clip":true},"encoding":{
"x":{"field":"x","type":"quantitative","scale":{"domain":[-1,3],"nice":false,"zero":false},"axis":{"orient":"top","values":[-0.5,0.5,1.5,2.5],"tickSize":-6,"tickWidth":3,"labels":false,"domain":false,"title":null}},
"y":{"field":"y","type":"quantitative","scale":{"type":"log","domain":[0.001,195],"nice":false},"axis":{"orient":"right","values":[0.002,0.003,0.004,0.005,0.006,0.007,0.008,0.009,0.02,0.03,0.04,0.05,0.06,0.07,0.08,0.09,0.2,0.3,0.4,0.5,0.6,0.7,0.8,0.9,2,3,4,5,6,7,8,9,20,30,40,50,60,70,80,90],"tickSize":-7,"tickWidth":3,"labels":false,"domain":false,"title":null}}}},
{"transform":[{"filter":"datum.s == 'Xb'"}],"mark":{"type":"area","fill":"#e52228","stroke":"#e52228","strokeWidth":1,"clip":true},"encoding":{
"x":{"field":"x","type":"quantitative","scale":{"domain":[-1,3],"nice":false,"zero":false},"axis":null},
"y":{"field":"y","type":"quantitative","scale":{"type":"log","domain":[0.001,195],"nice":false},"axis":null},"y2":{"datum":0.001}}},
{"transform":[{"filter":"datum.s == 'O1' || datum.s == 'O2'"}],"mark":{"type":"area","fill":"#3f48cc","stroke":"#0000ff","strokeWidth":3,"clip":true},"encoding":{
"x":{"field":"x","type":"quantitative","scale":{"domain":[-1,3],"nice":false,"zero":false},"axis":null},
"y":{"field":"y","type":"quantitative","scale":{"type":"log","domain":[0.001,195],"nice":false},"axis":null},"y2":{"datum":0.001},"detail":{"field":"s"}}},
{"data":{"name":"lab"},"transform":[{"filter":"datum.E == 7 && datum.k == 'sym'"}],"mark":{"type":"text","font":"Liberation Serif","baseline":"middle","align":"center"},"encoding":{
"x":{"field":"x","type":"quantitative","scale":{"domain":[-1,3],"nice":false,"zero":false},"axis":null},
"y":{"field":"y","type":"quantitative","scale":{"type":"log","domain":[0.001,195],"nice":false},"axis":null},"text":{"field":"t"},
"size":{"field":"p","type":"ordinal","scale":{"domain":["L","X","O"],"range":[46,68,56]},"legend":null},
"color":{"field":"p","type":"nominal","scale":{"domain":["L","X","O"],"range":["#000000","#ff0000","#0000ff"]},"legend":null}}},
{"data":{"name":"lab"},"transform":[{"filter":"datum.E == 7 && datum.k == 'E'"}],"mark":{"type":"text","font":"Liberation Serif","fontSize":45,"baseline":"middle","align":"right","color":"#000"},"encoding":{
"x":{"field":"x","type":"quantitative","scale":{"domain":[-1,3],"nice":false,"zero":false},"axis":null},
"y":{"field":"y","type":"quantitative","scale":{"type":"log","domain":[0.001,195],"nice":false},"axis":null},"text":{"field":"t"}}}
]}
]
}
